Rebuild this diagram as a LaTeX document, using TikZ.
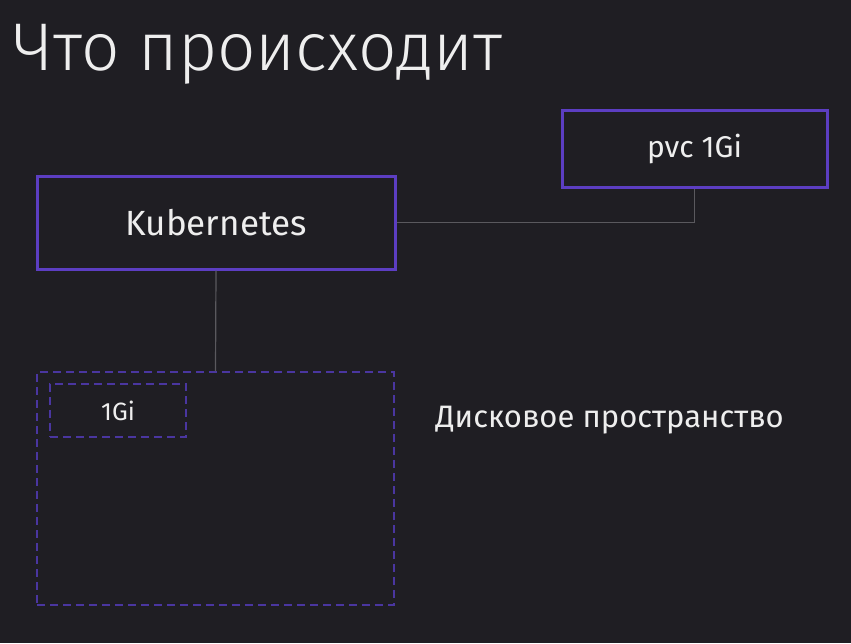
\documentclass[tikz,border=0pt]{standalone}
\usepackage{fontspec}
\setmainfont{Fira Sans}
\newfontfamily\titlefont{Fira Sans Light}
\definecolor{bg}{HTML}{1F1E23}
\definecolor{violet}{HTML}{5C3EC2}
\definecolor{dashviolet}{HTML}{4A36A0}
\definecolor{wire}{HTML}{5A595E}
\definecolor{ink}{HTML}{EEEEEE}
\begin{document}
\begin{tikzpicture}[x=1pt, y=-1pt, thick,
		main/.style = {draw=violet, line width=3pt, rectangle, inner sep=0pt, text=ink},
		area/.style = {draw=dashviolet, line width=1.4pt, dash pattern=on 8pt off 5pt, rectangle, inner sep=0pt, text=ink},
		wire/.style = {draw=wire, line width=1.2pt}]

		\fill[bg] (0,0) rectangle (851,643);
		\useasboundingbox (0,0) rectangle (851,643);

		\node[anchor=base west, text=ink, font=\titlefont\fontsize{67.5}{72}\selectfont] (title) at (10,70) {Что происходит};

		\node[main, minimum width=358pt, minimum height=93pt, font=\fontsize{35}{40}\selectfont] (kube) at (216,222.5) {Kubernetes};
		\node[main, minimum width=265pt, minimum height=77pt, font=\fontsize{30}{34}\selectfont] (pvc) at (694.5,148.5) {pvc 1Gi};
		\node[area, minimum width=357pt, minimum height=233pt] (disk) at (215.5,488.5) {};
		\node[area, minimum width=136pt, minimum height=53pt, font=\fontsize{25}{28}\selectfont] (gi) at (118,410.5) {1Gi};
		\node[anchor=base west, text=ink, font=\fontsize{31}{35}\selectfont] (space) at (432,427) {Дисковое пространство};

		\draw[wire] (kube.east) -| (pvc.south);
		\draw[wire] (kube.south) -- (disk.north);
	\end{tikzpicture}
\end{document}
